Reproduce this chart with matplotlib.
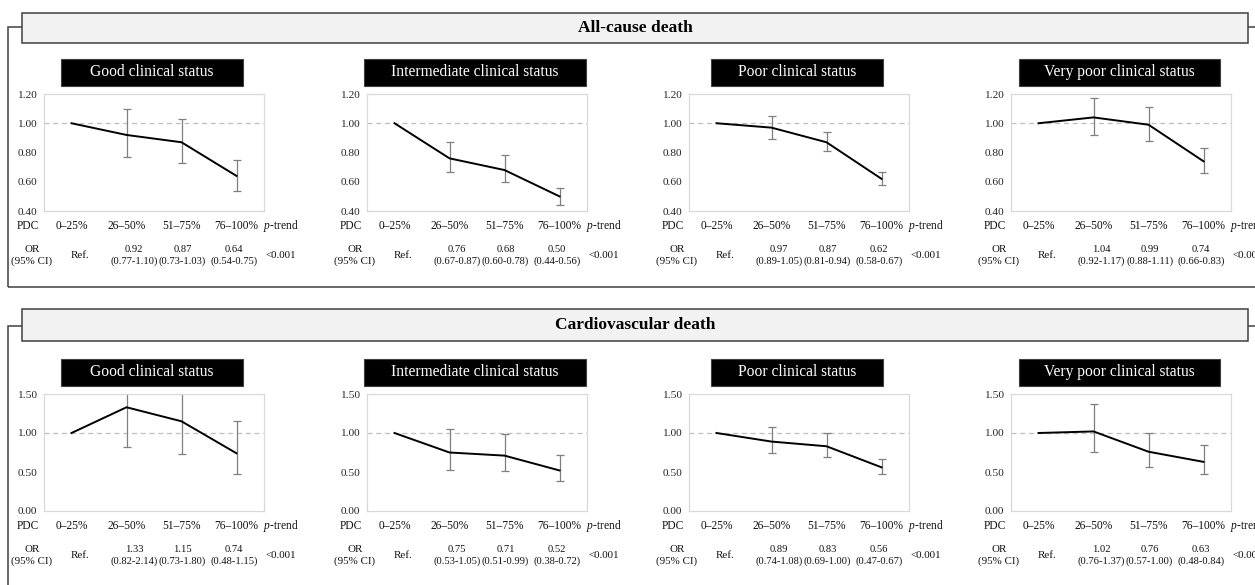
import matplotlib
matplotlib.use("Agg")
import matplotlib.pyplot as plt
from matplotlib.patches import Rectangle

plt.rcParams['font.family'] = 'Liberation Serif'
plt.rcParams['mathtext.fontset'] = 'custom'
plt.rcParams['mathtext.rm'] = 'Liberation Serif'
plt.rcParams['mathtext.it'] = 'Liberation Serif:italic'

W, H = 1255, 585

outcomes = ['All-cause death', 'Cardiovascular death']
statuses = ['Good clinical status', 'Intermediate clinical status',
            'Poor clinical status', 'Very poor clinical status']
pdc_labels = ['0–25%', '26–50%', '51–75%', '76–100%']
p_trend = '<0.001'

# odds ratios (first category is the reference)
allcause_or = [[1.00, 0.92, 0.87, 0.64],
               [1.00, 0.76, 0.68, 0.50],
               [1.00, 0.97, 0.87, 0.62],
               [1.00, 1.04, 0.99, 0.74]]
allcause_lo = [[0.77, 0.73, 0.54],
               [0.67, 0.60, 0.44],
               [0.89, 0.81, 0.58],
               [0.92, 0.88, 0.66]]
allcause_hi = [[1.10, 1.03, 0.75],
               [0.87, 0.78, 0.56],
               [1.05, 0.94, 0.67],
               [1.17, 1.11, 0.83]]

cv_or = [[1.00, 1.33, 1.15, 0.74],
         [1.00, 0.75, 0.71, 0.52],
         [1.00, 0.89, 0.83, 0.56],
         [1.00, 1.02, 0.76, 0.63]]
cv_lo = [[0.82, 0.73, 0.48],
         [0.53, 0.51, 0.38],
         [0.74, 0.69, 0.47],
         [0.76, 0.57, 0.48]]
cv_hi = [[2.14, 1.80, 1.15],
         [1.05, 0.99, 0.72],
         [1.08, 1.00, 0.67],
         [1.37, 1.00, 0.84]]

ylims = [(0.4, 1.2), (0.0, 1.5)]
ysteps = [0.2, 0.5]

# layout (pixels)
ax_lefts = [44, 367, 689, 1011]
ax_w, ax_h = 220, 117
section_dy = [0, 300]
title_w = [182, 222, 172, 201]
or_cols = [0.16, 1.14, 2.02, 2.96]


def fx(px):
    return px / W


def fy(py):
    return 1 - py / H


fig = plt.figure(figsize=(W / 100, H / 100), dpi=100)

# section frames and headers
frames = [(27, 287), (326, 600)]
headers = [(13, 43), (309, 341)]
for k in range(2):
    top, bot = frames[k]
    fig.patches.append(Rectangle((fx(8), fy(bot)), fx(1270) - fx(8), (bot - top) / H,
                                 transform=fig.transFigure, fill=False,
                                 edgecolor='#404040', lw=1.1))
    htop, hbot = headers[k]
    fig.patches.append(Rectangle((fx(22), fy(hbot)), fx(1248) - fx(22), (hbot - htop) / H,
                                 transform=fig.transFigure, facecolor='#f2f2f2',
                                 edgecolor='#404040', lw=1.1))
    fig.text(fx(635), fy((htop + hbot) / 2), outcomes[k], ha='center', va='center',
             fontsize=12.5, fontweight='bold', color='black')

data = [(allcause_or, allcause_lo, allcause_hi), (cv_or, cv_lo, cv_hi)]

for k in range(2):
    ors, los, his = data[k]
    dy = section_dy[k]
    for j in range(4):
        left = ax_lefts[j]
        ax = fig.add_axes([fx(left), fy(211 + dy), ax_w / W, ax_h / H])
        x = list(range(4))
        ax.axhline(1.0, color='#bfbfbf', lw=0.9, ls=(0, (4, 3)), zorder=1)
        ax.plot(x, ors[j], color='black', lw=1.4, zorder=3)
        yerr = [[ors[j][i + 1] - los[j][i] for i in range(3)],
                [his[j][i] - ors[j][i + 1] for i in range(3)]]
        ax.errorbar(x[1:], ors[j][1:], yerr=yerr, fmt='none', ecolor='#7f7f7f',
                    elinewidth=0.9, capsize=2.6, capthick=0.9, zorder=2)
        ax.set_xlim(-0.5, 3.5)
        lo_y, hi_y = ylims[k]
        ax.set_ylim(lo_y, hi_y)
        n = int(round((hi_y - lo_y) / ysteps[k]))
        ticks = [lo_y + i * ysteps[k] for i in range(n + 1)]
        ax.set_yticks(ticks)
        ax.set_yticklabels(['%.2f' % t for t in ticks])
        ax.set_xticks([])
        ax.tick_params(axis='y', length=0, pad=5, labelsize=8.2, labelcolor='#262626')
        for s in ax.spines.values():
            s.set_color('#d9d9d9')
            s.set_linewidth(0.9)

        # title box
        cx = left + ax_w / 2 - 2
        fig.patches.append(Rectangle((fx(cx - title_w[j] / 2), fy(86 + dy)), title_w[j] / W,
                                     27 / H, transform=fig.transFigure,
                                     facecolor='black', edgecolor='#404040', lw=0.8))
        fig.text(fx(cx), fy(72.5 + dy), statuses[j], ha='center', va='center',
                 fontsize=11.2, color='white')

        def put(txt, xv, off, size=8.3):
            ax.annotate(txt, xy=(xv, 0), xycoords=('data', 'axes fraction'),
                        xytext=(0, -off * 0.72), textcoords='offset points',
                        ha='center', va='center', fontsize=size,
                        annotation_clip=False, linespacing=1.2, color='#111111')

        put('PDC', -0.79, 15)
        for i in range(4):
            put(pdc_labels[i], i, 15)
        put('$p$-trend', 3.8, 15)
        put('OR\n(95% CI)', -0.72, 44.5, size=7.9)
        put('Ref.', or_cols[0], 44.5, size=7.9)
        for i in range(1, 4):
            txt = '%.2f\n(%.2f-%.2f)' % (ors[j][i], los[j][i - 1], his[j][i - 1])
            put(txt, or_cols[i], 44.5, size=7.6)
        put(p_trend, 3.8, 44.5, size=7.9)

plt.savefig('out.png', dpi=100)
